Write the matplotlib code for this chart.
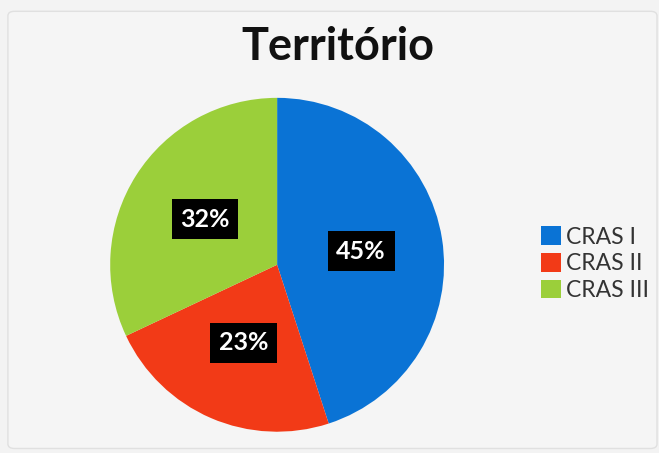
import matplotlib
matplotlib.use("Agg")
import matplotlib.pyplot as plt
from matplotlib.patches import FancyBboxPatch, Patch

title = "Território"
categories = ["CRAS I", "CRAS II", "CRAS III"]
values = [45, 23, 32]
colors = ["#0a73d5", "#f23a17", "#9bcf3a"]

plt.rcParams['font.family'] = ['Lato', 'DejaVu Sans']

fig = plt.figure(figsize=(6.59, 4.53), dpi=100)
fig.patch.set_facecolor("#f3f3f3")
# faint border frame
frame = FancyBboxPatch((0.012, 0.01), 0.985, 0.965, boxstyle="round,pad=0,rounding_size=0.01",
                       transform=fig.transFigure, facecolor="#f5f5f5", edgecolor="#e0e0e0",
                       linewidth=1.0, zorder=-5)
fig.patches.append(frame)

ax = fig.add_axes([0.167, 0.047, 0.507, 0.737])
ax.set_zorder(2)
wedges, texts, autotexts = ax.pie(
    values, colors=colors, startangle=90, counterclock=False,
    autopct=lambda p: f"{p:.0f}%", pctdistance=0.51,
    wedgeprops=dict(linewidth=0),
    textprops=dict(color="white", fontsize=18, fontweight="bold"))
for t in autotexts:
    t.set_bbox(dict(facecolor="black", edgecolor="none", boxstyle="square,pad=0.34"))
ax.set_xlim(-1, 1)
ax.set_ylim(-1, 1)
ax.set_aspect("equal")

fig.text(0.512, 0.897, title, ha="center", va="center", fontsize=32.5, fontweight="bold", color="#111111")

handles = [Patch(facecolor=c, edgecolor="none") for c in colors]
fig.legend(handles, categories, loc="center left", bbox_to_anchor=(0.79, 0.418),
           frameon=False, fontsize=16.5, handlelength=0.87, handleheight=0.87,
           handletextpad=0.22, labelspacing=0.24, labelcolor="#333333")

fig.savefig("out.png", dpi=100)
